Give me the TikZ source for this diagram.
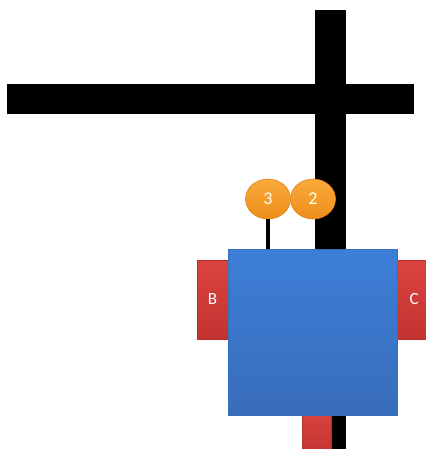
\documentclass[tikz,border=0pt]{standalone}
\usepackage{fontspec}
\setmainfont{Carlito}
\usetikzlibrary{shapes.geometric}
\definecolor{boxblue}{HTML}{3D7FD8}
\definecolor{boxblueb}{HTML}{386DBA}
\definecolor{boxedge}{HTML}{3470BE}
\definecolor{tabred}{HTML}{D94440}
\definecolor{tabredb}{HTML}{C33330}
\definecolor{tabedge}{HTML}{B8302C}
\definecolor{ballor}{HTML}{F9AA3C}
\definecolor{ballorb}{HTML}{EE8E1C}
\definecolor{balledge}{HTML}{E08512}
\begin{document}
\begin{tikzpicture}[x=1pt,y=-1pt,
  bar/.style={fill=black,draw=none,inner sep=0pt,outer sep=0pt},
  tab/.style={top color=tabred,bottom color=tabredb,draw=tabedge,line width=0.6pt,inner sep=0pt,outer sep=0pt},
  tablabel/.style={text=white,font=\fontsize{17}{17}\selectfont},
  ball/.style={ellipse,top color=ballor,bottom color=ballorb,draw=balledge,line width=0.6pt,inner sep=0pt,outer sep=0pt,minimum width=45pt,minimum height=40pt,text=white!92!yellow,font=\fontsize{18}{18}\selectfont},
  mainbox/.style={top color=boxblue,bottom color=boxblueb,draw=boxedge,line width=0.6pt,inner sep=0pt,outer sep=0pt}]
\useasboundingbox (0,0) rectangle (425,449);
% bars
\node[bar,anchor=north west,minimum width=407pt,minimum height=30pt] (hbar) at (7,84) {};
\node[bar,anchor=north west,minimum width=31pt,minimum height=439pt] (vbar) at (315,10) {};
% tabs
\node[tab,anchor=north west,minimum width=40pt,minimum height=79pt] (tabB) at (197,260) {};
\node[tablabel] (labB) at (212.5,299.5) {B};
\node[tab,anchor=north west,minimum width=40pt,minimum height=79pt] (tabC) at (390,260) {};
\node[tablabel,anchor=west] (labC) at (406,299.5) {C};
\node[tab,anchor=north west,minimum width=29pt,minimum height=45pt] (tabD) at (302,410) {};
% main box
\node[mainbox,anchor=north west,minimum width=169pt,minimum height=166pt] (box) at (228,249) {};
% balls
\node[ball] (b3) at (268,199) {3};
\node[ball] (b2) at (313,199) {2};
% stem
\draw[line width=4pt] (b3.south) -- (b3.south |- box.north);
\end{tikzpicture}
\end{document}
